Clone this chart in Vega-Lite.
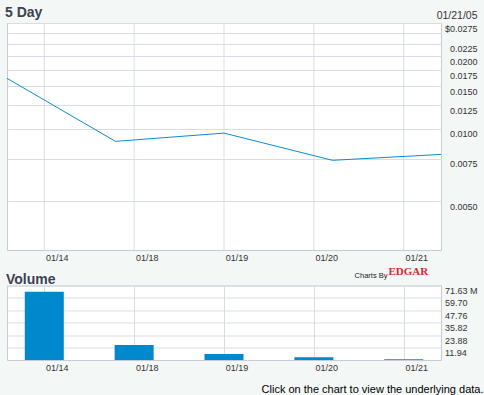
{
  "$schema": "https://vega.github.io/schema/vega-lite/v6.json",
  "background": "#f3f7f6",
  "padding": {"left": 4, "top": 5, "right": 0, "bottom": 0},
  "spacing": 1.5,
  "title": {"text": "Click on the chart to view the underlying data.", "orient": "bottom", "anchor": "end", "font": "Liberation Sans", "fontSize": 11, "fontWeight": "normal", "color": "#000000", "baseline": "top", "offset": 11, "dx": 6},
  "datasets": {
    "price": [
      {"date": "01/14", "close": 0.0162},
      {"date": "01/18", "close": 0.00887},
      {"date": "01/19", "close": 0.0096},
      {"date": "01/20", "close": 0.0074},
      {"date": "01/21", "close": 0.00783}
    ],
    "volume": [
      {"date": "01/14", "volume": 65.6},
      {"date": "01/18", "volume": 14.5},
      {"date": "01/19", "volume": 5.8},
      {"date": "01/20", "volume": 2.6},
      {"date": "01/21", "volume": 0.7}
    ]
  },
  "vconcat": [
    {
      "width": 434,
      "height": 227,
      "title": {"text": "5 Day", "dx": 0, "offset": -21, "baseline": "alphabetic"},
      "data": {"name": "price"},
      "layer": [
        {
          "mark": {"type": "rule", "color": "#d8dde5", "strokeWidth": 1},
          "encoding": {
            "x": {"field": "date", "type": "ordinal", "scale": {"type": "point", "padding": 0.415},
              "axis": {"orient": "bottom", "title": null, "labelAngle": 0, "labelOffset": 12.5, "labelPadding": 3, "grid": false}}
          }
        },
        {
          "mark": {"type": "line", "color": "#0a8bd0", "strokeWidth": 1},
          "encoding": {
            "x": {"field": "date", "type": "ordinal", "scale": {"type": "point", "padding": 0}, "axis": null},
            "y": {"field": "close", "type": "quantitative",
              "scale": {"type": "log", "domain": [0.00314, 0.0275], "nice": false, "zero": false},
              "axis": {"orient": "right", "values": [0.005, 0.0075, 0.01, 0.0125, 0.015, 0.0175, 0.02, 0.0225, 0.025, 0.0275],
                "labelExpr": "datum.value > 0.027 ? '$0.0275' : (abs(datum.value - 0.025) < 0.0001 ? '' : format(datum.value, '.4f'))",
                "labelAlign": "right", "labelPadding": 36, "labelOffset": 5, "labelOverlap": false, "labelBound": false, "grid": true,
                "title": "01/21/05", "titleAngle": 0, "titleAlign": "right", "titleBaseline": "middle", "titleX": 36, "titleY": -8,
                "titleFont": "Liberation Sans", "titleFontSize": 10.5, "titleFontWeight": "normal", "titleColor": "#333333"}}
          }
        }
      ],
      "resolve": {"scale": {"x": "independent"}, "axis": {"x": "independent"}}
    },
    {
      "width": 434,
      "height": 74.5,
      "title": {"text": "Volume", "dx": -1, "offset": -32, "baseline": "alphabetic"},
      "data": {"name": "volume"},
      "layer": [
        {
          "mark": {"type": "bar", "color": "#0088cc", "width": 39},
          "encoding": {
            "x": {"field": "date", "type": "ordinal", "scale": {"type": "point", "padding": 0.415},
              "axis": {"orient": "bottom", "title": null, "labelAngle": 0, "labelOffset": 12.5, "labelPadding": 3, "grid": true}},
            "y": {"field": "volume", "type": "quantitative", "scale": {"domain": [0, 71.63], "nice": false},
              "axis": {"orient": "right", "values": [11.94, 23.88, 35.82, 47.76, 59.70, 71.63],
                "labelExpr": "datum.value > 71 ? '71.63 M' : format(datum.value, '.2f')",
                "labelAlign": "left", "labelPadding": 3.5, "labelOffset": 5, "labelOverlap": false, "labelBound": false, "grid": true,
                "title": "Charts By", "titleAngle": 0, "titleAlign": "right", "titleBaseline": "middle", "titleX": -54, "titleY": -10,
                "titleFont": "Liberation Sans", "titleFontSize": 7.5, "titleFontWeight": "normal", "titleColor": "#222222"}}
          }
        },
        {
          "mark": {"type": "rule", "opacity": 0},
          "encoding": {
            "x": {"field": "date", "type": "ordinal",
              "axis": {"orient": "top", "labels": false, "grid": false, "title": "EDGAR",
                "titleFont": "Liberation Serif", "titleFontSize": 11, "titleFontWeight": "bold", "titleColor": "#d9262c",
                "titleX": 381, "titleY": -14, "titleAlign": "left", "titleBaseline": "middle", "titleAngle": 0}}
          }
        }
      ],
      "resolve": {"axis": {"x": "independent"}}
    }
  ],
  "config": {
    "view": {"fill": "#ffffff", "stroke": "#c4ccd6"},
    "axis": {"labelFont": "Liberation Sans", "labelFontSize": 9, "labelColor": "#333333", "gridColor": "#d8dde5", "gridWidth": 1, "domain": false, "ticks": false, "tickSize": 0},
    "title": {"font": "Liberation Sans", "fontSize": 14, "fontWeight": "bold", "color": "#3b4252", "anchor": "start"}
  }
}
